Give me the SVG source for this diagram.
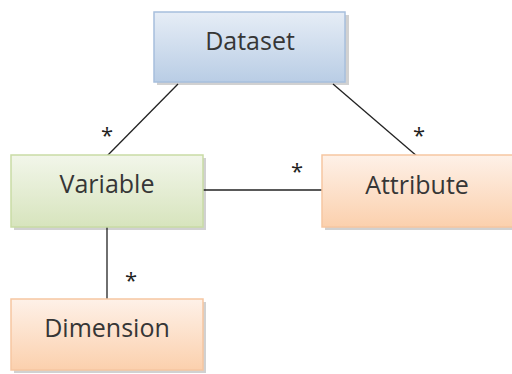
<svg xmlns="http://www.w3.org/2000/svg" width="512" height="374" viewBox="0 0 512 374">
<defs>
<linearGradient id="gBlue" x1="0" y1="0" x2="0" y2="1"><stop offset="0" stop-color="#e6edf6"/><stop offset="1" stop-color="#b9cde5"/></linearGradient>
<linearGradient id="gGreen" x1="0" y1="0" x2="0" y2="1"><stop offset="0" stop-color="#f2f6ea"/><stop offset="1" stop-color="#d7e4bd"/></linearGradient>
<linearGradient id="gOrange" x1="0" y1="0" x2="0" y2="1"><stop offset="0" stop-color="#fef1e8"/><stop offset="1" stop-color="#fbd0ad"/></linearGradient>
</defs>
<style>
.lbl{font-family:"Open Sans","Liberation Sans",sans-serif;font-size:25px;fill:#363636;text-anchor:middle}
.star{font-family:"Open Sans","Liberation Sans",sans-serif;font-size:22px;fill:#222;text-anchor:middle}
.shadow{fill:#000;opacity:0.18}
.line{stroke:#222;stroke-width:1.3;fill:none}
</style>
<g id="connectors">
<line class="line" x1="178" y1="84" x2="106" y2="157"/>
<line class="line" x1="333" y1="84" x2="418" y2="157"/>
<line class="line" x1="203" y1="190" x2="322" y2="190"/>
<line class="line" x1="107" y1="227" x2="107" y2="299"/>
<text class="star" x="107" y="143">*</text>
<text class="star" x="419" y="143">*</text>
<text class="star" x="297" y="179">*</text>
<text class="star" x="131" y="288">*</text>
</g>
<g id="dataset">
<rect class="shadow" x="157" y="15" width="192" height="70"/>
<rect x="154" y="12" width="191" height="70" fill="url(#gBlue)" stroke="#a7bfdd" stroke-width="1.5"/>
<text class="lbl" x="250" y="50">Dataset</text>
</g>
<g id="variable">
<rect class="shadow" x="14" y="158" width="192" height="72"/>
<rect x="11" y="155" width="192" height="72" fill="url(#gGreen)" stroke="#c9dba5" stroke-width="1.5"/>
<text class="lbl" x="107" y="193">Variable</text>
</g>
<g id="attribute">
<rect class="shadow" x="325" y="158" width="192" height="72"/>
<rect x="322" y="155" width="192" height="72" fill="url(#gOrange)" stroke="#f6c6a1" stroke-width="1.5"/>
<text class="lbl" x="417" y="194">Attribute</text>
</g>
<g id="dimension">
<rect class="shadow" x="14" y="302" width="192" height="71"/>
<rect x="11" y="299" width="192" height="71" fill="url(#gOrange)" stroke="#f6c6a1" stroke-width="1.5"/>
<text class="lbl" x="107" y="337">Dimension</text>
</g>
</svg>
